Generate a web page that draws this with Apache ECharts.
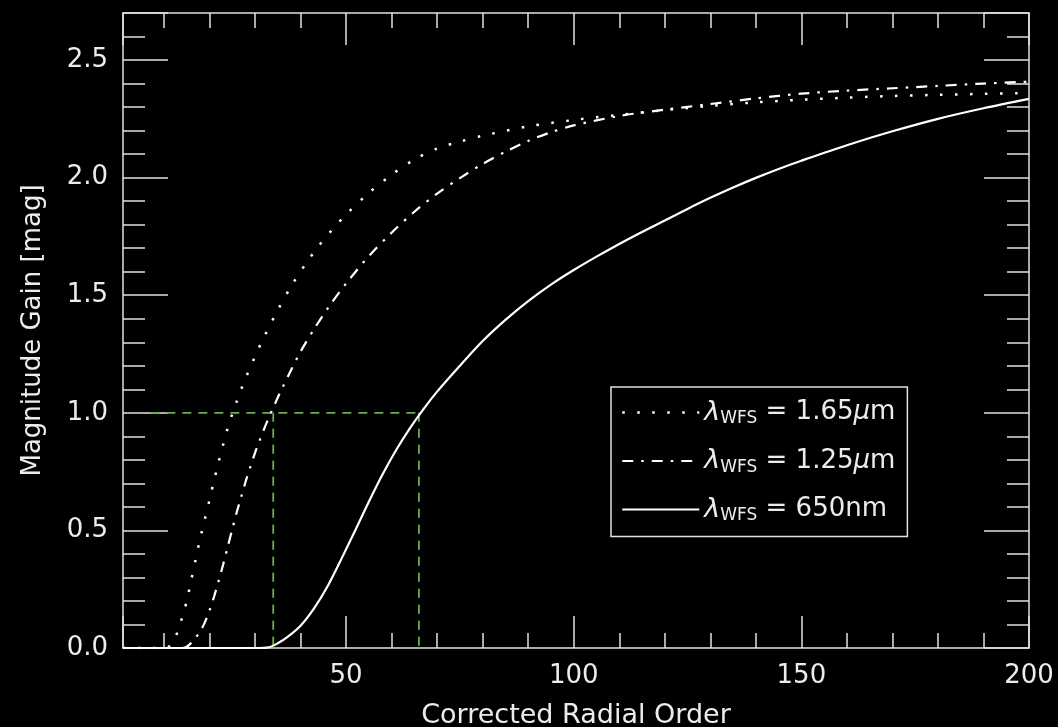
<!DOCTYPE html>
<html><head><meta charset="utf-8">
<script src="https://cdn.jsdelivr.net/npm/echarts@6/dist/echarts.min.js"></script>
<style>html,body{margin:0;padding:0;background:#000}#c{width:1058px;height:727px}</style>
</head><body><div id="c"></div>
<script>
// ---- data ----
const seriesNames = ['1.65μm', '1.25μm', '650nm'];

const x165 = [1, 5, 10, 11, 12, 13, 14, 15, 16, 17, 18, 19, 20, 21, 22, 23, 24, 25, 26, 27, 28, 30, 32, 35, 38, 41, 44, 47, 50, 55, 60, 65, 70, 75, 80, 90, 100, 110, 120, 130, 140, 150, 160, 170, 180, 190, 200];
const y165 = [0, 0, 0, 0.005, 0.025, 0.07, 0.13, 0.2, 0.29, 0.38, 0.47, 0.55, 0.63, 0.712, 0.79, 0.865, 0.935, 0.995, 1.05, 1.102, 1.15, 1.24, 1.323, 1.437, 1.54, 1.63, 1.71, 1.78, 1.843, 1.935, 2.012, 2.077, 2.124, 2.153, 2.178, 2.218, 2.245, 2.267, 2.287, 2.305, 2.32, 2.331, 2.34, 2.347, 2.352, 2.356, 2.36];

const x125 = [1, 10, 14, 15, 16, 17, 18, 19, 20, 21, 22, 23, 24, 25, 26, 27, 28, 29, 30, 31, 32, 33, 34, 35, 36, 38, 40, 43, 46, 50, 55, 60, 65, 70, 75, 80, 85, 90, 95, 100, 110, 120, 130, 140, 150, 160, 170, 180, 190, 200];
const y125 = [0, 0, 0, 0.005, 0.022, 0.045, 0.072, 0.11, 0.16, 0.218, 0.285, 0.355, 0.43, 0.505, 0.578, 0.645, 0.712, 0.772, 0.83, 0.882, 0.932, 0.978, 1.022, 1.065, 1.106, 1.185, 1.26, 1.357, 1.445, 1.55, 1.666, 1.766, 1.855, 1.932, 1.998, 2.058, 2.11, 2.156, 2.193, 2.222, 2.262, 2.289, 2.313, 2.337, 2.357, 2.37, 2.38, 2.39, 2.40, 2.408];

const x650 = [1, 10, 20, 30, 33, 35, 37, 40, 43, 46, 49, 52, 55, 58, 61, 64, 67, 70, 75, 80, 85, 90, 95, 100, 105, 110, 115, 120, 125, 130, 135, 140, 145, 150, 160, 170, 180, 190, 200];
const y650 = [0, 0, 0, 0, 0.003, 0.02, 0.045, 0.095, 0.17, 0.265, 0.38, 0.5, 0.622, 0.738, 0.842, 0.934, 1.016, 1.09, 1.2, 1.305, 1.395, 1.475, 1.545, 1.607, 1.664, 1.718, 1.769, 1.818, 1.867, 1.914, 1.958, 1.999, 2.037, 2.072, 2.138, 2.197, 2.25, 2.295, 2.335];

// green guide lines: level, where the horizontal starts, and the two orders
const guideLevel = 1.0;
const guideStartX = 7;
const guideXs = [34, 66];
const guideBottom = -0.02;

// axis ranges / ticks
const xMin = 1, xMax = 200, xMajor = 50, xMinor = 10;
const yMin = 0, yMax = 2.7, yMajor = 0.5, yMinor = 0.1;

// ---- chart ----
const FONT = 'DejaVu Sans';
const AX = '#e2e2e2';
const TXT = '#ececec';
const pairs = (xs, ys) => xs.map((x, i) => [x, ys[i]]);

const lineStyles = [
  {color: '#ffffff', width: 2.5, type: [2.5, 12.5], cap: 'butt'},
  {color: '#ffffff', width: 2.2, type: [11, 8, 2.5, 8], cap: 'butt'},
  {color: '#ffffff', width: 2.2, type: 'solid'}
];
const dataSets = [pairs(x165, y165), pairs(x125, y125), pairs(x650, y650)];

function xAx(pos, len, minor, showLabel) {
  return {
    type: 'value', position: pos, min: xMin, max: xMax,
    minInterval: minor ? xMinor : xMajor, maxInterval: minor ? xMinor : xMajor,
    splitNumber: minor ? 20 : 4,
    axisLine: {show: !minor, onZero: false, lineStyle: {color: AX, width: 1.5}},
    axisTick: {show: true, inside: true, length: len, lineStyle: {color: AX, width: 1.5}},
    axisLabel: {show: showLabel, color: TXT, fontFamily: FONT, fontSize: 26, margin: 15,
      formatter: v => (Math.abs(v % xMajor) < 1e-9 ? String(v) : '')},
    splitLine: {show: false},
    name: showLabel ? 'Corrected Radial Order' : '', nameLocation: 'middle', nameGap: 54,
    nameTextStyle: {color: TXT, fontFamily: FONT, fontSize: 27}
  };
}
function yAx(pos, len, minor, showLabel) {
  return {
    type: 'value', position: pos, min: yMin, max: yMax,
    interval: minor ? yMinor : yMajor,
    axisLine: {show: !minor, onZero: false, lineStyle: {color: AX, width: 1.5}},
    axisTick: {show: true, inside: true, length: len, lineStyle: {color: AX, width: 1.5}},
    axisLabel: {show: showLabel, color: TXT, fontFamily: FONT, fontSize: 26, margin: 15,
      formatter: v => (Math.abs(Math.round(v / yMajor) * yMajor - v) < 1e-6 ? v.toFixed(1) : '')},
    splitLine: {show: false},
    name: showLabel ? 'Magnitude Gain [mag]' : '', nameLocation: 'middle', nameGap: 77,
    nameTextStyle: {color: TXT, fontFamily: FONT, fontSize: 26}
  };
}

const series = seriesNames.map((n, i) => ({
  name: n, type: 'line', data: dataSets[i], symbol: 'none', smooth: 0.3,
  lineStyle: lineStyles[i], z: 3, silent: true, animation: false
}));
const green = {color: '#6cb043', width: 1.8, type: [9, 7]};
series.push({type: 'line', data: [[guideStartX, guideLevel], [guideXs[1], guideLevel]], symbol: 'none',
  lineStyle: green, clip: false, z: 2, silent: true, animation: false});
guideXs.forEach(gx => series.push({type: 'line', data: [[gx, guideLevel], [gx, guideBottom]], symbol: 'none',
  lineStyle: green, clip: false, z: 2, silent: true, animation: false}));

const rich = {
  l: {fontFamily: FONT, fontStyle: 'italic', fontSize: 27, color: TXT, lineHeight: 30},
  s: {fontFamily: FONT, fontSize: 17, color: TXT, lineHeight: 12, verticalAlign: 'bottom'},
  e: {fontFamily: FONT, fontSize: 26, color: TXT, lineHeight: 30},
  m: {fontFamily: FONT, fontStyle: 'italic', fontSize: 26, color: TXT, lineHeight: 30}
};
function legendText(name) {
  const i = name.indexOf('μ');
  if (i >= 0) return '{l|λ}{s|WFS}{e| = ' + name.slice(0, i) + '}{m|μ}{e|' + name.slice(i + 1) + '}';
  return '{l|λ}{s|WFS}{e| = ' + name + '}';
}

const chart = echarts.init(document.getElementById('c'), null, {renderer: 'canvas'});
chart.setOption({
  backgroundColor: '#000000',
  animation: false,
  grid: {left: 123, right: 29, top: 13, bottom: 79, containLabel: false, outerBoundsMode: 'none'},
  xAxis: [xAx('bottom', 32, false, true), xAx('bottom', 15, true, false), xAx('top', 32, false, false), xAx('top', 15, true, false)],
  yAxis: [yAx('left', 45, false, true), yAx('left', 22, true, false), yAx('right', 45, false, false), yAx('right', 22, true, false)],
  legend: {
    data: seriesNames.map((n, i) => ({name: n, lineStyle: lineStyles[i], itemStyle: {color: 'rgba(0,0,0,0)', borderWidth: 0}})),
    orient: 'vertical', left: 611, top: 387,
    itemWidth: 77, itemHeight: 14, itemGap: 20, padding: [12, 12, 12, 10],
    borderColor: AX, borderWidth: 1.5, backgroundColor: '#000',
    selectedMode: false,
    textStyle: {color: TXT, fontFamily: FONT, fontSize: 26, rich: rich},
    formatter: legendText
  },
  series: series
});
</script>
</body></html>
